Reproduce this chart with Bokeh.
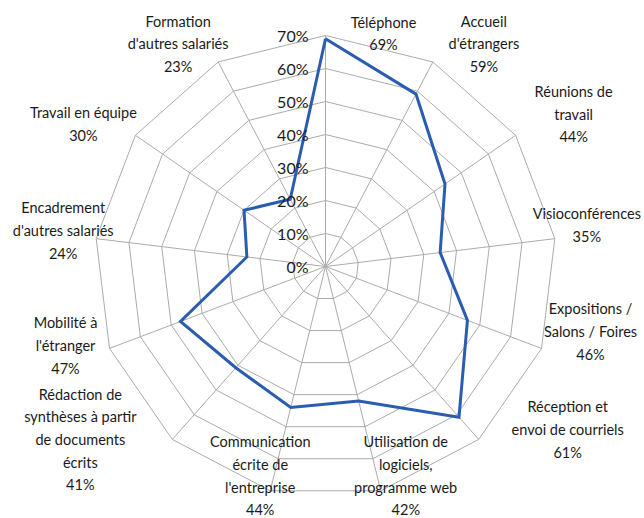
import numpy as np
from bokeh.plotting import figure
from bokeh.models import ColumnDataSource, Range1d
from bokeh.embed import file_html
from bokeh.resources import INLINE
from bokeh.core.properties import value

# ---------------- data ----------------
categories = ["Téléphone", "Accueil d'étrangers", "Réunions de travail", "Visioconférences",
              "Expositions / Salons / Foires", "Réception et envoi de courriels",
              "Utilisation de logiciels, programme web", "Communication écrite de l'entreprise",
              "Rédaction de synthèses à partir de documents écrits", "Mobilité à l'étranger",
              "Encadrement d'autres salariés", "Travail en équipe", "Formation d'autres salariés"]
label_lines = [["Téléphone"], ["Accueil", "d'étrangers"], ["Réunions de", "travail"],
               ["Visioconférences"], ["Expositions /", "Salons / Foires"],
               ["Réception et", "envoi de courriels"],
               ["Utilisation de", "logiciels,", "programme web"],
               ["Communication", "écrite de", "l'entreprise"],
               ["Rédaction de", "synthèses à partir", "de documents", "écrits"],
               ["Mobilité à", "l'étranger"], ["Encadrement", "d'autres salariés"],
               ["Travail en équipe"], ["Formation", "d'autres salariés"]]
values = [69, 59, 44, 35, 46, 61, 42, 44, 41, 47, 24, 30, 23]
ring_ticks = [0, 10, 20, 30, 40, 50, 60, 70]
ring_labels = ["0%", "10%", "20%", "30%", "40%", "50%", "60%", "70%"]

# ---------------- layout ----------------
PX = 231 / 70.0          # pixels per percent unit
W, H = 644, 518
CX, CY = 325, 266        # centre in figure pixels
# label block centre offsets from spoke end, in pixels (dx right, dy down)
label_offsets = [(58, -2), (51, -18), (58, -21), (32, -14), (49, -17), (89, -10),
                 (25, -15), (-10, -15), (-92, 0), (-44, -3), (-33, -8), (-52, -11), (-40, -18)]
LINE_H = 22.7
FONT = "Lato"
FS = "14.5px"

n = len(categories)
theta = np.arange(n) * 2 * np.pi / n
rmax = ring_ticks[-1]

p = figure(width=W, height=H, output_backend="svg", toolbar_location=None,
           x_range=Range1d(-CX / PX, (W - CX) / PX),
           y_range=Range1d(-(H - CY) / PX, CY / PX),
           min_border=0, outline_line_color=None, background_fill_color="white",
           border_fill_color="white")
p.axis.visible = False
p.xgrid.visible = False
p.ygrid.visible = False

grid_col = "#ababab"
# rings
xs, ys = [], []
for r in ring_ticks[1:]:
    xs.append(list(r * np.sin(theta)) + [r * np.sin(theta[0])])
    ys.append(list(r * np.cos(theta)) + [r * np.cos(theta[0])])
p.multi_line(xs, ys, line_color=grid_col, line_width=1)
# spokes
p.segment(x0=np.zeros(n), y0=np.zeros(n), x1=rmax * np.sin(theta), y1=rmax * np.cos(theta),
          line_color=grid_col, line_width=1)

# data polygon
v = np.array(values, dtype=float)
dx = list(v * np.sin(theta)) + [v[0] * np.sin(theta[0])]
dy = list(v * np.cos(theta)) + [v[0] * np.cos(theta[0])]
p.line(dx, dy, line_color="#2a5db0", line_width=3, line_join="miter")

# ring labels
p.text(x=[-17 / PX] * len(ring_ticks), y=ring_ticks, text=ring_labels,
       text_align="right", text_baseline="middle", text_font=value(FONT),
       text_font_size="16px", text_color="#1a1a1a")

# category labels
tx, ty, tt = [], [], []
for i, lines in enumerate(label_lines):
    ex = rmax * np.sin(theta[i]) + label_offsets[i][0] / PX
    ey = rmax * np.cos(theta[i]) - label_offsets[i][1] / PX
    allines = lines + [f"{values[i]}%"]
    m = len(allines)
    for j, s in enumerate(allines):
        tx.append(ex)
        ty.append(ey - (j - (m - 1) / 2) * LINE_H / PX)
        tt.append(s)
p.text(x=tx, y=ty, text=tt, text_align="center", text_baseline="middle",
       text_font=value(FONT), text_font_size=FS, text_color="#1a1a1a")

open("out.html", "w").write(file_html(p, INLINE))
